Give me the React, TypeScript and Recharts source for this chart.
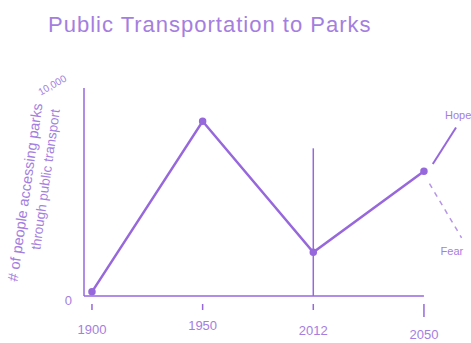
import React from "react";
import {
  LineChart,
  Line,
  XAxis,
  YAxis,
  ReferenceLine,
  LabelList,
  Label,
} from "recharts";

// x positions are category slots (0 = 1900 ... 3 = 2050); projections run past 2050
const years = ["1900", "1950", "2012", "2050"];
const people = [200, 8400, 2100, 6000];
const hopeX = [3.08, 3.29];
const hope = [6350, 8100];
const fearX = [3.05, 3.34];
const fear = [5400, 2800];
const yTicks = [0, 10000];
const marker2012Top = 7100;

const INK = "#9768dc";
const TEXT = "#a47ee0";
const FONT = "'Liberation Sans', Arial, sans-serif";

const mainData = years.map((year, i) => ({ x: i, year, people: people[i] }));
const hopeData = hopeX.map((x, i) => ({ x, value: hope[i] }));
const fearData = fearX.map((x, i) => ({ x, value: fear[i] }));

const XTick = (props: any) => {
  const { x, y, payload } = props;
  const i = payload.value as number;
  const last = i === years.length - 1;
  const labelDy = [30, 26, 31, 35][i] ?? 30;
  return (
    <g>
      <line x1={x} y1={y} x2={x} y2={y + (last ? 13 : 6)} stroke={INK} strokeWidth={1.5} />
      <text x={x} y={y + labelDy} textAnchor="middle" fill={TEXT} fontSize={13} fontFamily={FONT}>
        {years[i]}
      </text>
    </g>
  );
};

const YTick = (props: any) => {
  const { x, y, payload } = props;
  if (payload.value === 0) {
    return (
      <text x={x - 4} y={y + 9} textAnchor="end" fill={TEXT} fontSize={13} fontFamily={FONT}>
        0
      </text>
    );
  }
  return (
    <text
      x={x - 22}
      y={y}
      textAnchor="middle"
      fill={TEXT}
      fontSize={10}
      fontFamily={FONT}
      transform={`rotate(-30 ${x - 22} ${y})`}
    >
      10,000
    </text>
  );
};

const YTitle = () => (
  <g fill={TEXT} fontFamily={FONT} textAnchor="middle">
    <text x={30} y={193} fontSize={14.5} transform="rotate(-82 30 193)">
      # of people accessing parks
    </text>
    <text x={50} y={180} fontSize={13.5} transform="rotate(-82 50 180)">
      through public transport
    </text>
  </g>
);

const EndLabel = (text: string, dx: number, dy: number) => (props: any) => {
  const { x, y, index } = props;
  if (index !== 1) return null;
  return (
    <text x={x + dx} y={y + dy} fill={TEXT} fontSize={11} fontFamily={FONT}>
      {text}
    </text>
  );
};

export default function App() {
  return (
    <div style={{ position: "absolute", left: 0, top: 0, width: 471, height: 343, background: "#fff" }}>
      <div
        style={{
          position: "absolute",
          left: 48,
          top: 12,
          fontFamily: FONT,
          fontSize: 22,
          letterSpacing: 1,
          color: TEXT,
          whiteSpace: "nowrap",
        }}
      >
        Public Transportation to Parks
      </div>
      <LineChart
        width={471}
        height={343}
        margin={{ top: 88, right: 5, bottom: 0, left: 0 }}
        style={{ position: "absolute", left: 0, top: 0 }}
      >
        <XAxis
          dataKey="x"
          type="number"
          domain={[-0.072, 3.38]}
          ticks={[0, 1, 2, 3]}
          allowDataOverflow
          axisLine={false}
          tickLine={false}
          tick={<XTick />}
          height={47}
          interval={0}
        />
        <YAxis
          type="number"
          domain={[0, 10000]}
          ticks={yTicks}
          width={84}
          axisLine={{ stroke: INK, strokeWidth: 1.5 }}
          tickLine={false}
          tick={<YTick />}
        >
          <Label content={<YTitle />} />
        </YAxis>
        <ReferenceLine
          segment={[
            { x: -0.072, y: 0 },
            { x: 3, y: 0 },
          ]}
          stroke={INK}
          strokeWidth={1.5}
          ifOverflow="visible"
        />
        <ReferenceLine
          segment={[
            { x: 2, y: 0 },
            { x: 2, y: marker2012Top },
          ]}
          stroke={INK}
          strokeWidth={1.5}
          ifOverflow="visible"
        />
        <Line
          data={mainData}
          dataKey="people"
          type="linear"
          stroke={INK}
          strokeWidth={2.5}
          dot={{ r: 2.5, fill: INK, stroke: INK }}
          isAnimationActive={false}
        />
        <Line
          data={hopeData}
          dataKey="value"
          type="linear"
          stroke={INK}
          strokeWidth={2}
          dot={false}
          isAnimationActive={false}
        >
          <LabelList content={EndLabel("Hope", -11, -9)} />
        </Line>
        <Line
          data={fearData}
          dataKey="value"
          type="linear"
          stroke={INK}
          strokeWidth={1.5}
          strokeDasharray="5 5"
          strokeOpacity={0.7}
          dot={false}
          isAnimationActive={false}
        >
          <LabelList content={EndLabel("Fear", -21, 17)} />
        </Line>
      </LineChart>
    </div>
  );
}
